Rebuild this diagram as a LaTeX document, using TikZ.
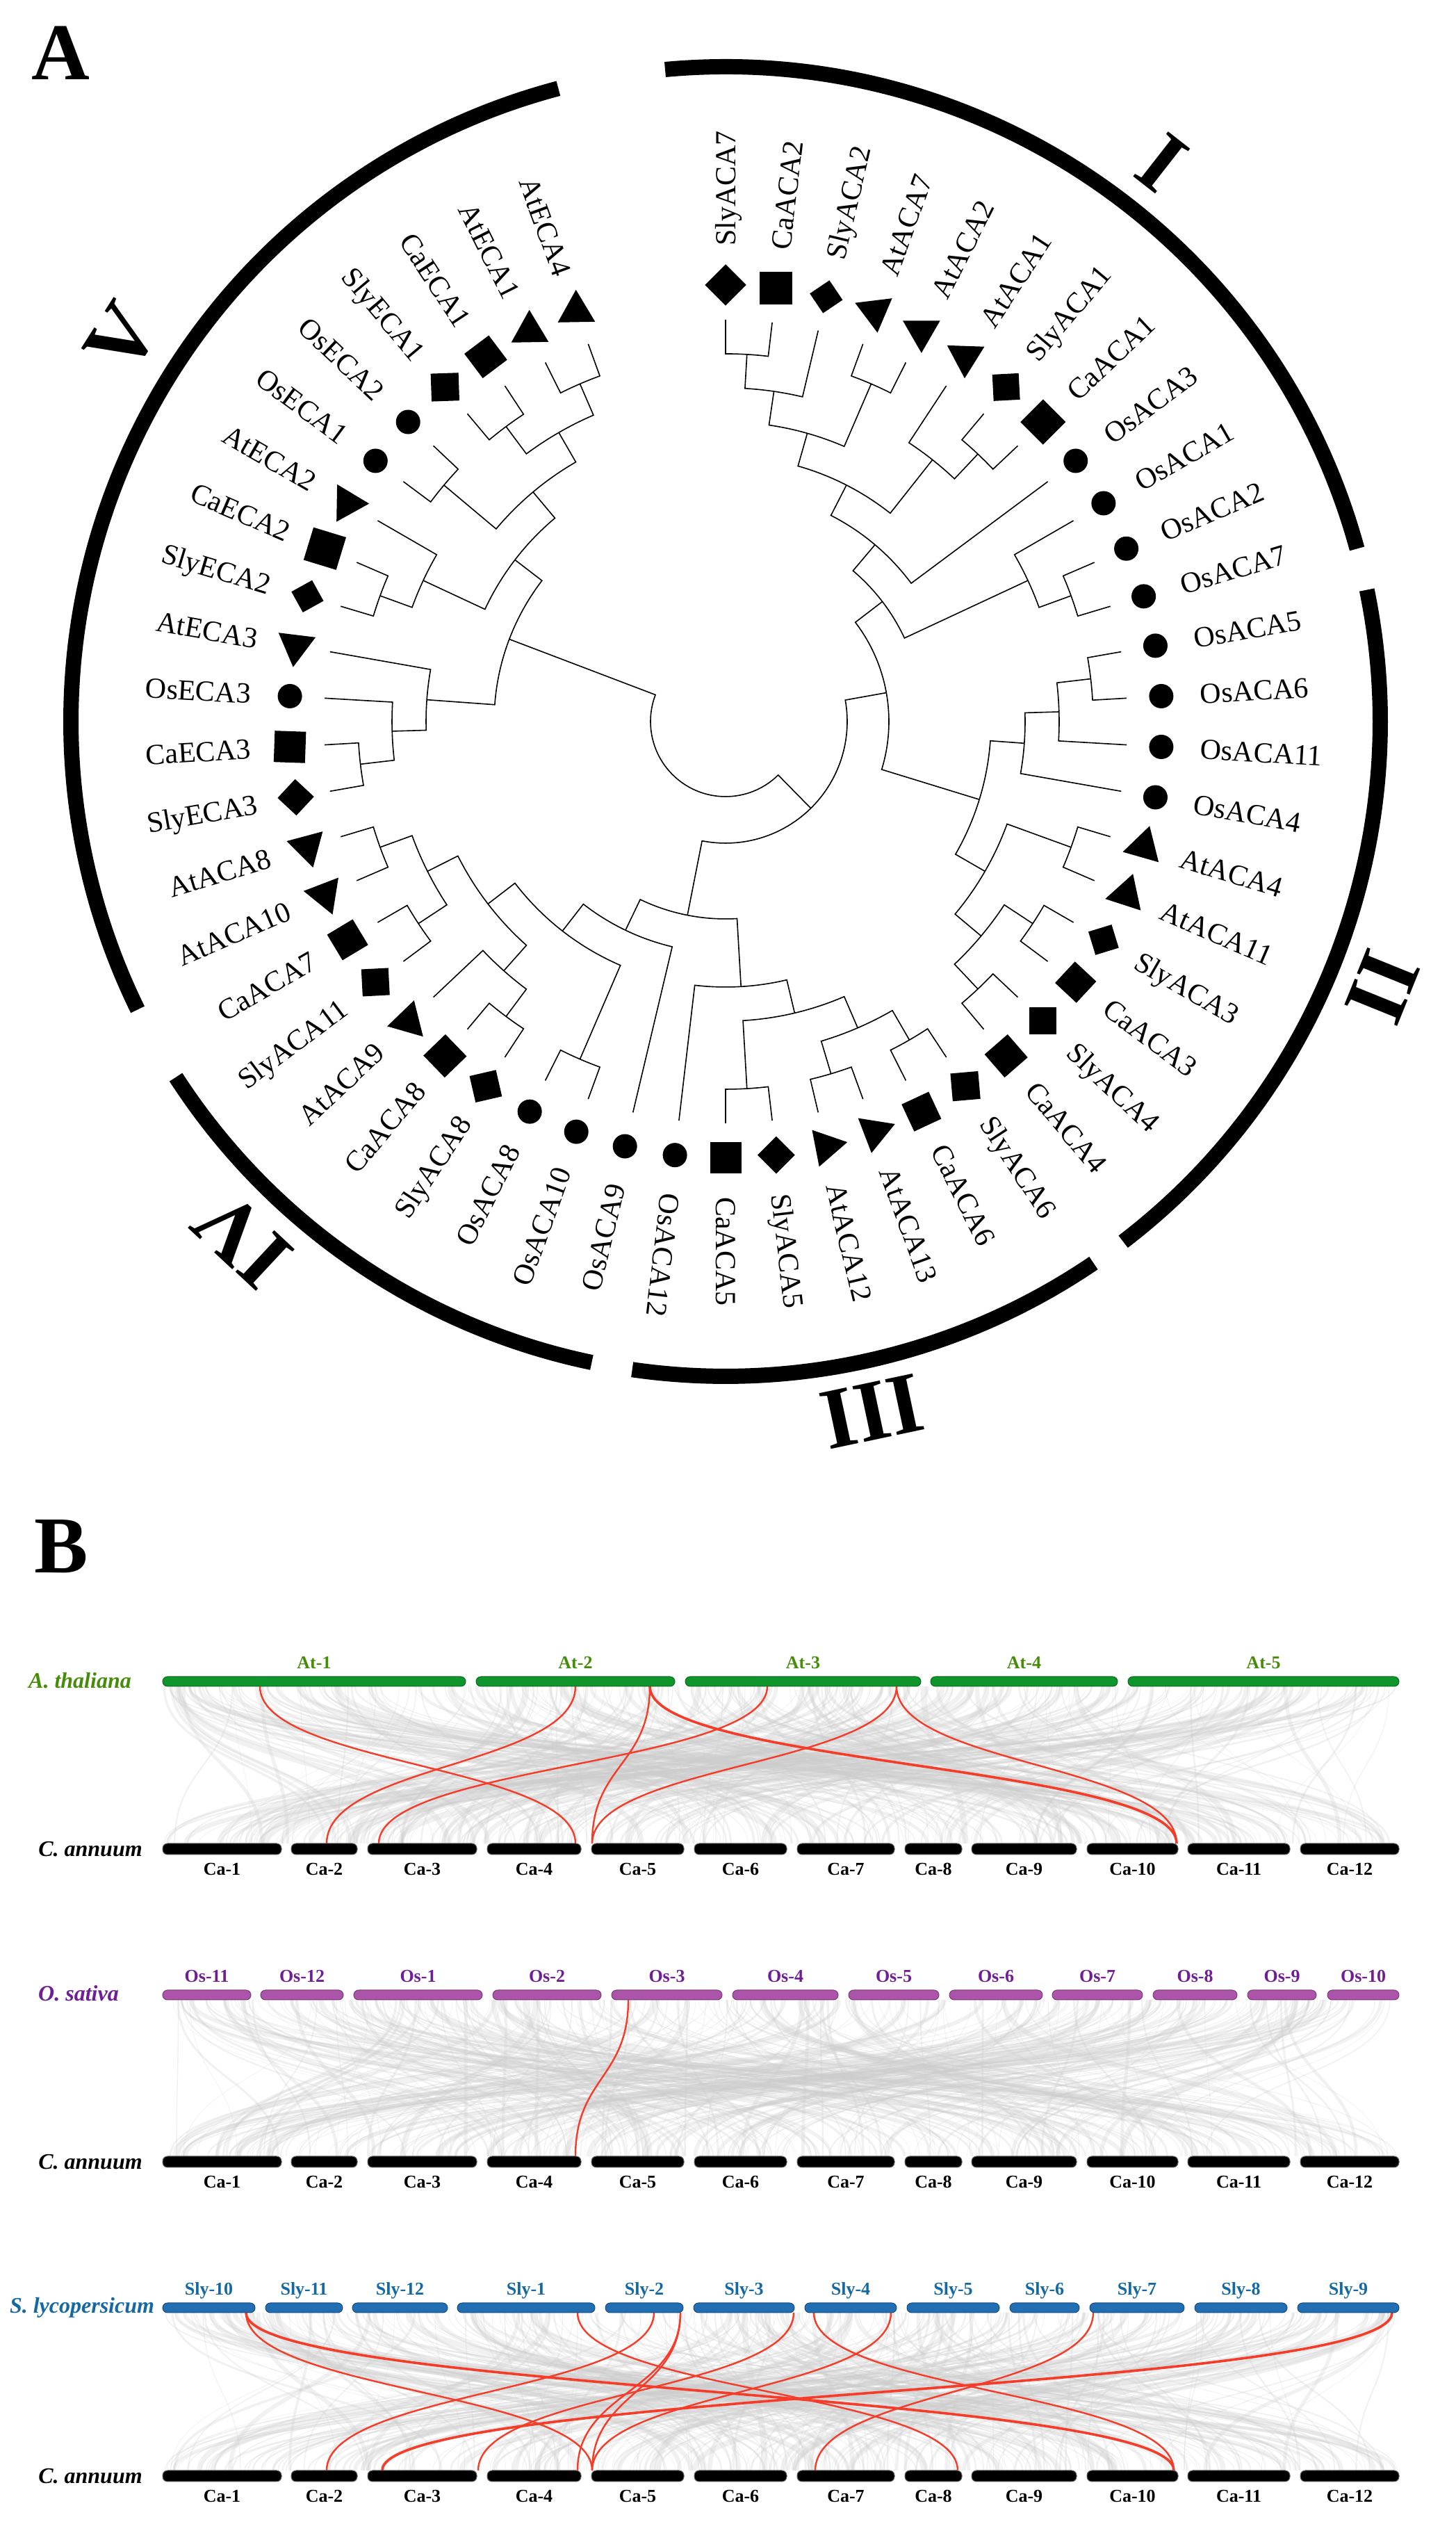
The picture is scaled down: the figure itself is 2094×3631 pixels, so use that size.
\documentclass[tikz,border=0pt]{standalone}
\usepackage{fontspec}
\usepackage{graphicx}
\setmainfont{Liberation Serif}
\usetikzlibrary{shapes.geometric}
\definecolor{atgreen}{RGB}{14,150,44}
\definecolor{attext}{RGB}{70,140,10}
\definecolor{ospurple}{RGB}{172,84,170}
\definecolor{ostext}{RGB}{112,30,150}
\definecolor{slyblue}{RGB}{33,110,178}
\definecolor{slytext}{RGB}{20,105,165}
\definecolor{redlink}{RGB}{245,60,40}
\definecolor{graylink}{RGB}{205,205,205}

\newcommand\TAng[1]{\csname tang@#1\endcsname}
\newcommand\TRad[1]{\csname trad@#1\endcsname}
\newcommand\leafdef[2]{%
  \pgfmathsetmacro\tzang{90-#2*6.6666667}%
  \expandafter\xdef\csname tang@#1\endcsname{\tzang}%
  \expandafter\xdef\csname trad@#1\endcsname{578}}
\newcommand\cladedef[4]{%
  \edef\tzA{\TAng{#2}}\edef\tzB{\TAng{#3}}%
  \edef\tzRa{\TRad{#2}}\edef\tzRb{\TRad{#3}}%
  \pgfmathsetmacro\tzang{(\tzA+\tzB)/2}%
  \expandafter\xdef\csname tang@#1\endcsname{\tzang}%
  \expandafter\xdef\csname trad@#1\endcsname{#4}%
  \draw[treeline] (\tzA:\tzRa pt) -- (\tzA:#4pt) arc[start angle=\tzA, end angle=\tzB, radius=#4pt] -- (\tzB:\tzRb pt);}
\newcounter{lnk}
\newcommand\synlink[5]{\stepcounter{lnk}%
  \coordinate (ls\thelnk) at (#2,#3);\coordinate (le\thelnk) at (#4,#5);%
  \pgfmathsetmacro\tzymid{(#3+#5)/2}%
  \draw[#1] (ls\thelnk) .. controls (#2,\tzymid) and (#4,\tzymid) .. (le\thelnk);}

\tikzset{
  treeline/.style={line width=1.6pt},
  sqmark/.style={rectangle, fill=black, inner sep=0pt, draw=none},
  trimark/.style={regular polygon, regular polygon sides=3, fill=black, inner sep=0pt, minimum size=62pt},
  cimark/.style={circle, fill=black, inner sep=0pt, minimum size=35pt},
  leaflab/.style={font=\fontsize{42}{50}\selectfont, inner sep=0pt, text height=28pt, text depth=0pt},
  ring/.style={line width=22pt},
  roman/.style={font=\fontsize{125}{130}\selectfont\bfseries, inner sep=0pt, text height=83pt, text depth=0pt},
  panellab/.style={font=\fontsize{116}{120}\selectfont\bfseries, inner sep=0pt, text height=77pt, text depth=0pt},
  chrom/.style={rectangle, rounded corners=7pt, minimum height=14pt, inner sep=0pt},
  chrlab/.style={font=\fontsize{26}{30}\selectfont\bfseries, inner sep=0pt, text height=17pt, text depth=0pt},
  spec/.style={font=\fontsize{32}{36}\selectfont\bfseries\itshape, inner sep=0pt, text height=21pt, text depth=0pt},
  glink/.style={draw=graylink, opacity=0.27},
  redl/.style={draw=redlink, line width=2.4pt},
  redt/.style={draw=redlink, line width=3.6pt}
}

\begin{document}
\begin{tikzpicture}[x=1pt,y=1pt]
\fill[white] (0,0) rectangle (2094,3631);
\useasboundingbox (0,0) rectangle (2094,3631);

% ---------------- Panel A ----------------
\node[panellab] (labA) at (87,3555) {A};
\begin{scope}[shift={(1044,2593)}]
\foreach \i in {0,...,51}{\leafdef{L\i}{\i}}
% group I
\cladedef{N0_1}{L0}{L1}{529}
\cladedef{N0_2}{N0_1}{L2}{480}
\cladedef{N3_4}{L3}{L4}{529}
\cladedef{N0_4}{N0_2}{N3_4}{431}
\cladedef{N6_7}{L6}{L7}{529}
\cladedef{N5_7}{L5}{N6_7}{480}
\cladedef{N0_7}{N0_4}{N5_7}{382}
\cladedef{N0_8}{N0_7}{L8}{333}
\cladedef{N10_11}{L10}{L11}{529}
\cladedef{N9_11}{L9}{N10_11}{480}
\cladedef{N0_11}{N0_8}{N9_11}{284}
% group II
\cladedef{N12_13}{L12}{L13}{529}
\cladedef{N12_14}{N12_13}{L14}{480}
\cladedef{N12_15}{N12_14}{L15}{431}
\cladedef{N16_17}{L16}{L17}{529}
\cladedef{N18_19}{L18}{L19}{529}
\cladedef{N20_21}{L20}{L21}{529}
\cladedef{N18_21}{N18_19}{N20_21}{480}
\cladedef{N16_21}{N16_17}{N18_21}{431}
\cladedef{N12_21}{N12_15}{N16_21}{382}
\cladedef{N0_21}{N0_11}{N12_21}{235}
% groups III and IV
\cladedef{N22_23}{L22}{L23}{529}
\cladedef{N24_25}{L24}{L25}{529}
\cladedef{N22_25}{N22_23}{N24_25}{480}
\cladedef{N26_27}{L26}{L27}{529}
\cladedef{N22_27}{N22_25}{N26_27}{431}
\cladedef{N22_28}{N22_27}{L28}{382}
\cladedef{N30_31}{L30}{L31}{529}
\cladedef{N32_33}{L32}{L33}{529}
\cladedef{N32_34}{N32_33}{L34}{480}
\cladedef{N35_36}{L35}{L36}{529}
\cladedef{N37_38}{L37}{L38}{529}
\cladedef{N35_38}{N35_36}{N37_38}{480}
\cladedef{N32_38}{N32_34}{N35_38}{431}
\cladedef{N30_38}{N30_31}{N32_38}{382}
\cladedef{N29_38}{L29}{N30_38}{333}
\cladedef{N22_38}{N22_28}{N29_38}{284}
\cladedef{N0_38}{N0_21}{N22_38}{175}
% group V
\cladedef{N39_40}{L39}{L40}{529}
\cladedef{N39_41}{N39_40}{L41}{480}
\cladedef{N39_42}{N39_41}{L42}{431}
\cladedef{N43_44}{L43}{L44}{529}
\cladedef{N43_45}{N43_44}{L45}{480}
\cladedef{N46_47}{L46}{L47}{529}
\cladedef{N48_49}{L48}{L49}{529}
\cladedef{N50_51}{L50}{L51}{529}
\cladedef{N48_51}{N48_49}{N50_51}{480}
\cladedef{N46_51}{N46_47}{N48_51}{431}
\cladedef{N43_51}{N43_45}{N46_51}{382}
\cladedef{N39_51}{N39_42}{N43_51}{333}
\cladedef{ROOT}{N0_38}{N39_51}{108}

% markers and labels
\foreach \i/\nm/\shp/\sz/\rot in {
0/SlyACA7/1/42/45, 1/CaACA2/1/47/0, 2/SlyACA2/1/34/34, 3/AtACA7/2/0/-173,
4/AtACA2/2/0/180, 5/AtACA1/2/0/178, 6/SlyACA1/1/38/3, 7/CaACA1/1/46/45,
8/OsACA3/3/0/0, 9/OsACA1/3/0/0, 10/OsACA2/3/0/0, 11/OsACA7/3/0/0,
12/OsACA5/3/0/0, 13/OsACA6/3/0/0, 14/OsACA11/3/0/0, 15/OsACA4/3/0/0,
16/AtACA4/2/0/-16, 17/AtACA11/2/0/-18, 18/SlyACA3/1/35/17, 19/CaACA3/1/42/47,
20/SlyACA4/1/39/0, 21/CaACA4/1/44/41, 22/SlyACA6/1/40/5, 23/CaACA6/1/43/25,
24/AtACA13/2/0/-189, 25/AtACA12/2/0/-199, 26/SlyACA5/1/38/45, 27/CaACA5/1/45/0,
28/OsACA12/3/0/0, 29/OsACA9/3/0/0, 30/OsACA10/3/0/0, 31/OsACA8/3/0/0,
32/SlyACA8/1/39/13, 33/CaACA8/1/44/44, 34/AtACA9/2/0/-16, 35/SlyACA11/1/39/3,
36/CaACA7/1/43/31, 37/AtACA10/2/0/-159, 38/AtACA8/2/0/-165, 39/SlyECA3/1/37/47,
40/CaECA3/1/45/-2, 41/OsECA3/3/0/0, 42/AtECA3/2/0/-187, 43/SlyECA2/1/34/29,
44/CaECA2/1/49/-17, 45/AtECA2/2/0/-91, 46/OsECA1/3/0/0, 47/OsECA2/3/0/0,
48/SlyECA1/1/40/2, 49/CaECA1/1/44/37, 50/AtECA1/2/0/1, 51/AtECA4/2/0/1}{%
  \pgfmathsetmacro\tzL{90-\i*6.6666667}%
  \ifcase\shp\or
    \node[sqmark, minimum size=\sz pt, rotate=\rot] (m\i) at (\tzL:628pt) {};%
  \or
    \node[trimark, rotate=\rot] (m\i) at (\tzL:628pt) {};%
  \or
    \node[cimark] (m\i) at (\tzL:628pt) {};%
  \fi
  \ifnum\i<29
    \node[leaflab, anchor=west, rotate=\tzL] (t\i) at (\tzL:684pt) {\nm};%
  \else
    \node[leaflab, anchor=east, rotate=\tzL+180] (t\i) at (\tzL:684pt) {\nm};%
  \fi}

% group rings
\draw[ring] (15.3:942pt) arc[start angle=15.3, end angle=95.3, radius=942pt];
\draw[ring] (-52.6:942pt) arc[start angle=-52.6, end angle=11.6, radius=942pt];
\draw[ring] (-98.2:942pt) arc[start angle=-98.2, end angle=-55.8, radius=942pt];
\draw[ring] (-147.1:942pt) arc[start angle=-147.1, end angle=-101.8, radius=942pt];
\draw[ring] (104.8:942pt) arc[start angle=104.8, end angle=206.1, radius=942pt];
\node[roman, rotate=-38] (gI) at (52:1020pt) {I};
\node[roman, rotate=-112] (gII) at (-22:1020pt) {II};
\node[roman, rotate=-168] (gIII) at (-78:1015pt) {III};
\node[roman, rotate=-223] (gIV) at (-133:1020pt) {IV};
\node[roman, rotate=57.6] (gV) at (147.6:1030pt) {V};
\end{scope}

% ---------------- Panel B ----------------
\node[panellab] (labB) at (88,1407) {B};

% gray background links
\pgfmathsetseed{7}
\foreach \n in {1,...,400}{%
  \pgfmathsetmacro\xa{236+rnd*1775}\pgfmathsetmacro\xb{236+rnd*1775}%
  \pgfmathsetmacro\lw{0.6+13*rnd*rnd*rnd}%
  \synlink{glink, line width=\lw pt}{\xa}{1205}{\xb}{979}}
\foreach \n in {1,...,400}{%
  \pgfmathsetmacro\xa{236+rnd*1775}\pgfmathsetmacro\xb{236+rnd*1775}%
  \pgfmathsetmacro\lw{0.6+13*rnd*rnd*rnd}%
  \synlink{glink, line width=\lw pt}{\xa}{754}{\xb}{529}}
\foreach \n in {1,...,400}{%
  \pgfmathsetmacro\xa{236+rnd*1775}\pgfmathsetmacro\xb{236+rnd*1775}%
  \pgfmathsetmacro\lw{0.6+13*rnd*rnd*rnd}%
  \synlink{glink, line width=\lw pt}{\xa}{304}{\xb}{77}}

% red links panel 1
\synlink{redl}{374}{1205}{828}{979}
\synlink{redl}{828}{1205}{470}{979}
\synlink{redt}{935}{1205}{1693}{979}
\synlink{redl}{935}{1205}{852}{979}
\synlink{redl}{1104}{1205}{545}{979}
\synlink{redl}{1290}{1205}{852}{979}
\synlink{redl}{1290}{1205}{1693}{979}
% red link panel 2
\synlink{redl}{904}{754}{828}{529}
% red links panel 3
\synlink{redt}{354}{304}{1689}{77}
\synlink{redl}{354}{304}{852}{77}
\synlink{redl}{831}{304}{1378}{77}
\synlink{redl}{941}{304}{470}{77}
\synlink{redl}{979}{304}{831}{77}
\synlink{redl}{979}{304}{852}{77}
\synlink{redl}{1142}{304}{688}{77}
\synlink{redl}{1171}{304}{1689}{77}
\synlink{redl}{1282}{304}{852}{77}
\synlink{redl}{1573}{304}{1173}{77}
\synlink{redt}{2003}{304}{550}{77}

% chromosomes
\foreach \k/\c/\w in {1/452/436,2/828/286,3/1155.5/339,4/1473.5/269,5/1818/390}{%
  \node[chrom, fill=atgreen, draw=atgreen!70!black, line width=1pt, minimum width=\w pt] (at\k) at (\c,1212) {};
  \node[chrlab, text=attext] (atl\k) at (\c,1238.5) {At-\k};}
\foreach \k/\c/\w in {11/297.5/127,12/434.5/119,1/601.5/185,2/787/156,3/959.5/159,4/1130/152,5/1286/130,6/1433/134,7/1579/130,8/1719.5/121,9/1844.5/99,10/1961.5/103}{%
  \node[chrom, fill=ospurple, draw=ospurple!70!black, line width=1pt, minimum width=\w pt] (os\k) at (\c,761) {};
  \node[chrlab, text=ostext] (osl\k) at (\c,787.5) {Os-\k};}
\foreach \k/\c/\w in {10/300.5/133,11/437.5/111,12/575.5/137,1/757/198,2/927/112,3/1070.5/145,4/1224/132,5/1371.5/133,6/1503/100,7/1636/136,8/1785.5/133,9/1940/146}{%
  \node[chrom, fill=slyblue, draw=slyblue!70!black, line width=1pt, minimum width=\w pt] (sl\k) at (\c,311) {};
  \node[chrlab, text=slytext] (sll\k) at (\c,337.5) {Sly-\k};}
\foreach \p/\y in {a/971,b/521,c/69}{%
  \foreach \k/\c/\w in {1/319.5/171,2/466.5/95,3/607.5/157,4/768.5/135,5/917.5/133,6/1065.5/133,7/1217/140,8/1343/82,9/1473.5/151,10/1629.5/131,11/1782.5/147,12/1942/142}{%
    \node[chrom, fill=black, draw=black!60, line width=1pt, minimum height=16pt, minimum width=\w pt] (ca\p\k) at (\c,\y) {};
    \node[chrlab] (cal\p\k) at (\c,\y-29) {Ca-\k};}}

% species labels
\node[spec, text=attext] (spAt) at (115,1213) {A. thaliana};
\node[spec, text=ostext] (spOs) at (113,763) {O. sativa};
\node[spec, text=slytext] (spSl) at (118,314) {S. lycopersicum};
\node[spec] (spCa1) at (130,971) {C. annuum};
\node[spec] (spCa2) at (130,521) {C. annuum};
\node[spec] (spCa3) at (130,69) {C. annuum};
\end{tikzpicture}
\end{document}
